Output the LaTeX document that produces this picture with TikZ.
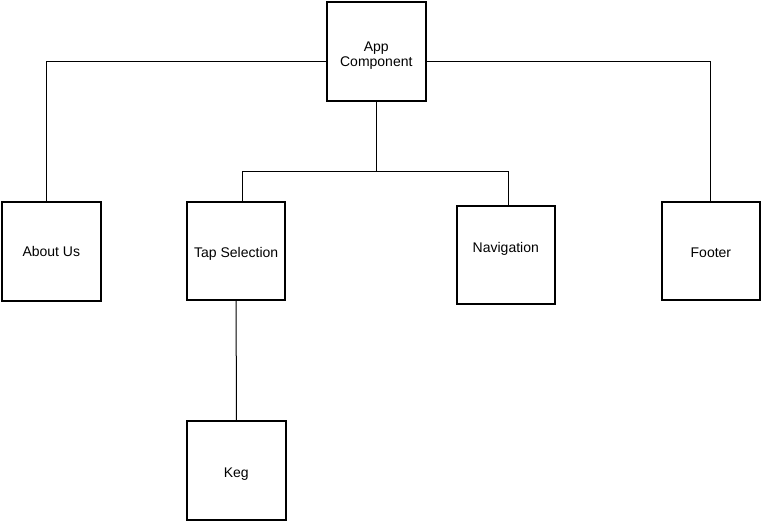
\documentclass[tikz,border=0pt]{standalone}
\usepackage{fontspec}
\setmainfont{Liberation Sans}
\usepackage{tikz}
\usetikzlibrary{positioning,calc}

\tikzset{
    comp/.style={draw, line width=2pt, minimum width=98.5pt, minimum height=98.5pt, align=center, inner sep=2pt, text depth=0pt, text height=12pt, font=\fontsize{14}{15.5}\selectfont},
    link/.style={line width=1pt}
}

\begin{document}
\begin{tikzpicture}[x=1pt, y=-1pt]
    \useasboundingbox (0,0) rectangle (762,522);

    \node[comp, text height=30.4pt] (app) at (376.3, 51.5) {App\\Component};

    \node[comp, text height=10.8pt] (about) at (51.3, 251.5) {About Us};
    \node[comp, text height=13pt] (tap) at (236.2, 250.8) {Tap Selection};
    \node[comp, text height=0pt, text depth=4.6pt] (nav) at (505.8, 255) {Navigation};
    \node[comp, text height=11.6pt] (footer) at (710.9, 251.2) {Footer};

    \node[comp, text height=14.4pt] (keg) at (236.3, 470.5) {Keg};

    \coordinate (split) at (376.3, 171.7);

    \draw[link] ([yshift=-9.5pt]app.west) -| ([xshift=-4.6pt]about.north);
    \draw[link] ([yshift=-9.5pt]app.east) -| (footer.north);
    \draw[link] (app.south) -- (split);
    \draw[link] ([xshift=6pt]tap.north) |- (split) -| ([xshift=2.5pt]nav.north);
    \draw[link] (tap.south) -- (keg.north);
\end{tikzpicture}
\end{document}
